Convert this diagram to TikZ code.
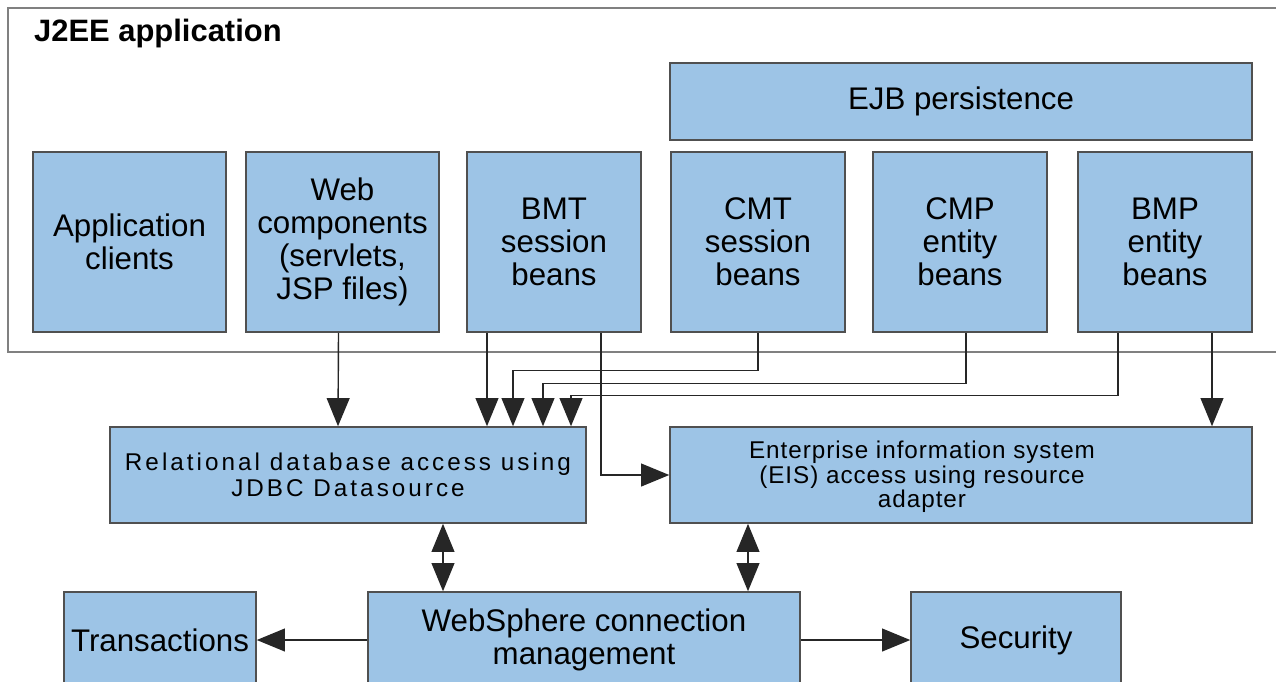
\documentclass[tikz,border=0pt]{standalone}
\usepackage{fontspec}
\setmainfont{Liberation Sans}
\usetikzlibrary{arrows.meta}
\usetikzlibrary{calc}
\definecolor{beanblue}{RGB}{157,196,230}
\definecolor{edgegray}{RGB}{80,80,80}

\begin{document}
\begin{tikzpicture}[x=0.02cm, y=-0.02cm,
        box/.style={draw=edgegray, line width=0.9pt, fill=beanblue, inner sep=0pt,
            align=center, font=\fontsize{17.8}{18.7}\selectfont},
        wide/.style={font=\fontsize{13.8}{14.7}\selectfont\addfontfeature{LetterSpace=12.5}},
        arr/.style={draw=black!85, line width=0.8pt, -{Triangle[length=16pt,width=13pt]}},
        dbl/.style={arr, {Triangle[length=16pt,width=13pt]}-{Triangle[length=16pt,width=13pt]}}]
        \clip (0,0) rectangle (1276,681);
        \fill[white] (0,0) rectangle (1276,681);

        % J2EE application frame
        \draw[gray, line width=1.3pt] (8,8) rectangle (1290,352);
        \node[anchor=base west, font=\fontsize{17.6}{20}\selectfont\bfseries] (title) at (28,41) {J2EE application};

        % EJB persistence
        \node[box, minimum width=11.64cm, minimum height=1.54cm] (ejbp) at (961,101.5) {EJB persistence};

        % components
        \node[box, minimum width=3.86cm, minimum height=3.6cm] (appcl) at (129.5,242) {Application\\clients};
        \node[box, minimum width=3.86cm, minimum height=3.6cm] (web) at (342.5,242) {Web\\components\\(servlets,\\JSP files)};
        \node[box, minimum width=3.48cm, minimum height=3.6cm] (bmt) at (554,242) {BMT\\session\\beans};
        \node[box, minimum width=3.48cm, minimum height=3.6cm] (cmt) at (758,242) {CMT\\session\\beans};
        \node[box, minimum width=3.48cm, minimum height=3.6cm] (cmp) at (960,242) {CMP\\entity\\beans};
        \node[box, minimum width=3.48cm, minimum height=3.6cm] (bmp) at (1165,242) {BMP\\entity\\beans};

        % access layer
        \node[box, wide, minimum width=9.52cm, minimum height=1.92cm] (rel) at (348,475)
            {Relational database access using\\JDBC Datasource};
        \node[box, minimum width=11.64cm, minimum height=1.92cm] (eis) at (961,475) {};
        \node[align=center, inner sep=0pt, font=\fontsize{13.8}{13.9}\selectfont\addfontfeature{LetterSpace=4}]
            (eistxt) at ($(eis.center)+(-39,2)$)
            {Enterprise information system\\(EIS) access using resource\\adapter};

        % connection management
        \node[box, minimum width=3.84cm, minimum height=1.92cm] (trans) at (160,640) {Transactions};
        \node[box, minimum width=8.64cm, minimum height=1.92cm] (ws) at (584,640) {WebSphere connection\\management};
        \node[box, minimum width=4.2cm, minimum height=1.92cm] (sec) at (1016,640) {Security};

        % to JDBC
        \draw[arr] ($(web.south)+(-4,0)$) -- ($(rel.north)+(-10,0)$);
        \draw[arr] ($(bmt.south)+(-67,0)$) -- ($(rel.north)+(139,0)$);
        \draw[arr] (cmt.south) -- ++(0,38) -| ($(rel.north)+(165,0)$);
        \draw[arr] ($(cmp.south)+(6,0)$) -- ++(0,51) -| ($(rel.north)+(195,0)$);
        \draw[arr] ($(bmp.south)+(-47,0)$) -- ++(0,63) -| ($(rel.north)+(223,0)$);

        % to EIS
        \draw[arr] ($(bmp.south)+(47,0)$) -- ($(eis.north)+(251,0)$);
        \draw[arr] ($(bmt.south)+(47,0)$) |- (eis.west);

        % connection management
        \draw[dbl] ($(rel.south)+(95,0)$) -- ($(ws.north)+(-141,0)$);
        \draw[dbl] ($(eis.south)+(-213,0)$) -- ($(ws.north)+(164,0)$);
        \draw[arr] (ws.west) -- (trans.east);
        \draw[arr] (ws.east) -- (sec.west);
    \end{tikzpicture}
\end{document}
